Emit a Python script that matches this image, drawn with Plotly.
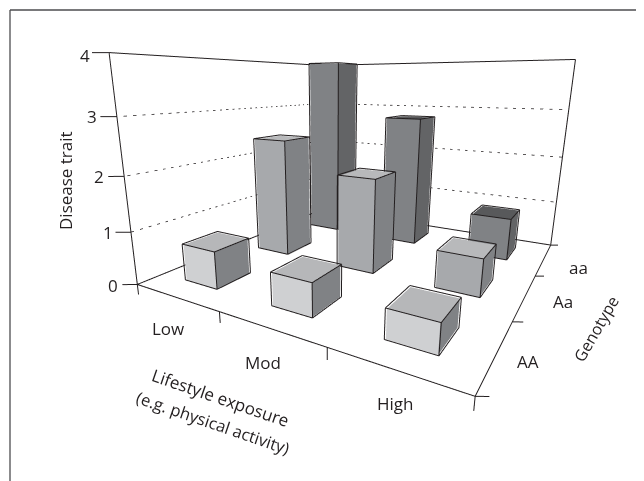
import plotly.graph_objects as go

lifestyle = ["Low", "Mod", "High"]
genotype = ["AA", "Aa", "aa"]
trait_AA = [0.69, 0.58, 0.48]
trait_Aa = [2.40, 1.83, 0.69]
trait_aa = [3.97, 2.78, 0.86]
z_ticks = [0, 1, 2, 3, 4]

front_colors = ["#cfd0d2", "#a7a9ac", "#808285"]
side_colors = ["#808285", "#808285", "#636466"]
top_colors = ["#b6b7b9", "#b8b9bb", "#58595b"]
INK = "#231f20"
BAR_W_X = 0.38
BAR_W_Y = 0.41
BAR_SHIFT_X = -0.015
EDGE_OUT = 0.008  # edges sit just outside the faces so they are not hidden by them
PAGE = 8  # the page body sets the figure this far in

fig = go.Figure()

# bars
vx, vy, vz, fi, fj, fk, fc = [], [], [], [], [], [], []
ex, ey, ez = [], [], []
for g, vals in enumerate([trait_AA, trait_Aa, trait_aa]):
    for l, h in enumerate(vals):
        x0 = l + 0.5 + BAR_SHIFT_X - BAR_W_X / 2
        x1 = l + 0.5 + BAR_SHIFT_X + BAR_W_X / 2
        y0, y1 = g + 0.5 - BAR_W_Y / 2, g + 0.5 + BAR_W_Y / 2
        b = len(vx)
        pts = [(x0, y0, 0), (x1, y0, 0), (x1, y1, 0), (x0, y1, 0),
               (x0, y0, h), (x1, y0, h), (x1, y1, h), (x0, y1, h)]
        for p in pts:
            vx.append(p[0]); vy.append(p[1]); vz.append(p[2])
        faces = [((0, 1, 5), front_colors[g]), ((0, 5, 4), front_colors[g]),
                 ((1, 2, 6), side_colors[g]), ((1, 6, 5), side_colors[g]),
                 ((4, 5, 6), top_colors[g]), ((4, 6, 7), top_colors[g]),
                 ((3, 0, 4), front_colors[g]), ((3, 4, 7), front_colors[g]),
                 ((2, 3, 7), side_colors[g]), ((2, 7, 6), side_colors[g]),
                 ((0, 1, 2), front_colors[g]), ((0, 2, 3), front_colors[g])]
        for (a, c, d), col in faces:
            fi.append(b + a); fj.append(b + c); fk.append(b + d); fc.append(col)
        out = []
        for p in pts:
            out.append((p[0] + (EDGE_OUT if p[0] == x1 else -EDGE_OUT),
                        p[1] + (EDGE_OUT if p[1] == y1 else -EDGE_OUT),
                        p[2] + 2 * EDGE_OUT if p[2] > 0 else p[2]))
        for a, c in [(0, 1), (1, 2), (4, 5), (5, 6), (6, 7), (7, 4), (0, 4), (1, 5), (2, 6)]:
            ex += [out[a][0], out[c][0], None]
            ey += [out[a][1], out[c][1], None]
            ez += [out[a][2], out[c][2], None]

fig.add_trace(go.Mesh3d(x=vx, y=vy, z=vz, i=fi, j=fj, k=fk, facecolor=fc, flatshading=True,
                        lighting=dict(ambient=1, diffuse=0, specular=0, fresnel=0, roughness=1),
                        hoverinfo="skip", showscale=False))
fig.add_trace(go.Scatter3d(x=ex, y=ey, z=ez, mode="lines", line=dict(color=INK, width=2),
                           hoverinfo="skip", showlegend=False))

NX, NY, ZMAX = len(lifestyle), len(genotype), max(z_ticks)

# frame of the floor and the walls, with ticks
lx, ly, lz = [], [], []
def seg(a, c):
    lx.extend([a[0], c[0], None]); ly.extend([a[1], c[1], None]); lz.extend([a[2], c[2], None])

for a, c in [((0, 0, 0), (NX, 0, 0)), ((NX, 0, 0), (NX, NY, 0)), ((NX, NY, 0), (0, NY, 0)),
             ((0, NY, 0), (0, 0, 0)), ((0, 0, 0), (0, 0, ZMAX)), ((0, 0, ZMAX), (0, NY, ZMAX)),
             ((0, NY, ZMAX), (NX, NY, ZMAX)), ((NX, NY, ZMAX), (NX, NY, 0)), ((0, NY, 0), (0, NY, ZMAX))]:
    seg(a, c)
for i in range(NX + 1):
    seg((i, 0, 0), (i, 0, -0.2))
for j in range(NY + 1):
    seg((NX, j, 0), (NX + 0.07, j + 0.04, 0))
for t in z_ticks:
    seg((0, 0, t), (-0.11, -0.07, t))
fig.add_trace(go.Scatter3d(x=lx, y=ly, z=lz, mode="lines", line=dict(color=INK, width=2),
                           hoverinfo="skip", showlegend=False))

# dashed grid on the back walls
gx, gy, gz = [], [], []
for t in z_ticks[1:-1]:
    gx += [0, 0, NX, None]; gy += [0, NY, NY, None]; gz += [t, t, t, None]
fig.add_trace(go.Scatter3d(x=gx, y=gy, z=gz, mode="lines",
                           line=dict(color=INK, width=1.5, dash="dot"),
                           hoverinfo="skip", showlegend=False))

SX, SY, SZ = 0.3333, 0.3429, 0.1632
PAD_X, PAD_Z = 0.2, 0.5
top = 1 - (10 - PAGE) / 481
left = (10 - PAGE) / 644
fig.update_layout(
    width=644, height=481, margin=dict(l=0, r=0, t=0, b=0), paper_bgcolor="white",
    showlegend=False,
    scene=dict(
        domain=dict(x=[(20 - PAGE) / 644, (644 - PAGE) / 644],
                    y=[1 - (412 - PAGE) / 481, 1 - (22 - PAGE) / 481]),
        xaxis=dict(visible=False, range=[-PAD_X, NX + PAD_X]),
        yaxis=dict(visible=False, range=[-PAD_X, NY + PAD_X]),
        zaxis=dict(visible=False, range=[-PAD_Z, ZMAX + PAD_Z]),
        aspectmode="manual",
        aspectratio=dict(x=SX * (NX + 2 * PAD_X), y=SY * (NY + 2 * PAD_X), z=SZ * (ZMAX + 2 * PAD_Z)),
        camera=dict(eye=dict(x=0.6695, y=-1.316, z=0.248),
                    center=dict(x=-0.0835, y=-0.0845, z=-0.160),
                    up=dict(x=0, y=0, z=1),
                    projection=dict(type="perspective")),
    ),
    shapes=[
        dict(type="line", xref="paper", yref="paper", x0=left, x1=1, y0=top, y1=top,
             line=dict(color="#4d4d4f", width=1.3)),
        dict(type="line", xref="paper", yref="paper", x0=left, x1=left, y0=0, y1=top,
             line=dict(color="#4d4d4f", width=1.3)),
    ],
)

FONT = "Open Sans"
def label(text, px, py, size=17, angle=0):
    fig.add_annotation(text=text, x=(px - PAGE) / 644, y=1 - (py - PAGE) / 481, xref="paper", yref="paper",
                       showarrow=False, textangle=angle, xanchor="center", yanchor="middle",
                       font=dict(family=FONT, size=size, color=INK))

for t, (px, py) in zip(z_ticks, [(113, 285), (108, 232), (99, 176), (92, 116), (85, 55)]):
    label(str(t), px, py)
for t, (px, py) in zip(lifestyle, [(168, 328), (263, 362), (395, 403)]):
    label(t, px, py)
for t, (px, py) in zip(genotype, [(528, 361), (563, 301), (578, 267)]):
    label(t, px, py)
label("Disease trait", 66, 181, angle=-90)
label("Genotype", 596, 329, size=16, angle=-60)
label("Lifestyle exposure", 220, 397, angle=19)
label("(e.g. physical activity)", 213, 422, size=16.5, angle=19)

fig.write_html("out.html")
